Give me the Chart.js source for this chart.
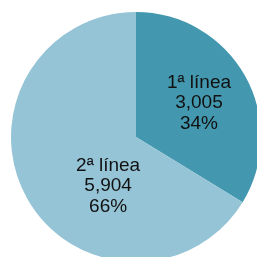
<!DOCTYPE html>
<html>
<head>
<meta charset="utf-8">
<script src="https://cdn.jsdelivr.net/npm/chart.js@4/dist/chart.umd.min.js"></script>
<style>
  html, body { margin: 0; padding: 0; background: #fff; overflow: hidden; }
  #wrap { position: absolute; left: 0; top: 0; width: 272px; height: 274px; }
</style>
</head>
<body>
<div id="wrap"><canvas id="pie"></canvas></div>
<script>
  /* ---------- data ---------- */
  const categories = ["1ª línea", "2ª línea"];
  const values     = [3005, 5904];
  const valueText  = ["3,005", "5,904"];
  const percents   = ["34%", "66%"];
  const colors     = ["#4398AF", "#95C4D6"];

  // where each label sits inside its slice (fraction of sweep, fraction of radius)
  const labelSweep  = [0.507, 0.37];
  const labelRadius = [0.573, 0.45];

  const sliceLabels = {
    id: "sliceLabels",
    afterDatasetsDraw(chart) {
      const ctx = chart.ctx;
      const arcs = chart.getDatasetMeta(0).data;
      ctx.save();
      ctx.fillStyle = "#111";
      ctx.font = "19px 'Liberation Sans', Arial, sans-serif";
      ctx.textAlign = "center";
      ctx.textBaseline = "middle";
      arcs.forEach((arc, i) => {
        const a = arc.startAngle + (arc.endAngle - arc.startAngle) * labelSweep[i];
        const r = arc.outerRadius * labelRadius[i];
        const cx = arc.x + Math.cos(a) * r;
        const cy = arc.y + Math.sin(a) * r;
        const lines = [categories[i], valueText[i], percents[i]];
        lines.forEach((t, k) => ctx.fillText(t, cx, cy + (k - 1) * 20.5));
      });
      ctx.restore();
    }
  };

  new Chart(document.getElementById("pie"), {
    type: "pie",
    data: {
      labels: categories,
      datasets: [{
        data: values,
        backgroundColor: colors,
        borderWidth: 0
      }]
    },
    options: {
      responsive: true,
      maintainAspectRatio: false,
      animation: false,
      layout: { padding: 11 },
      plugins: {
        legend: { display: false },
        tooltip: { enabled: false }
      }
    },
    plugins: [sliceLabels]
  });
</script>
</body>
</html>
